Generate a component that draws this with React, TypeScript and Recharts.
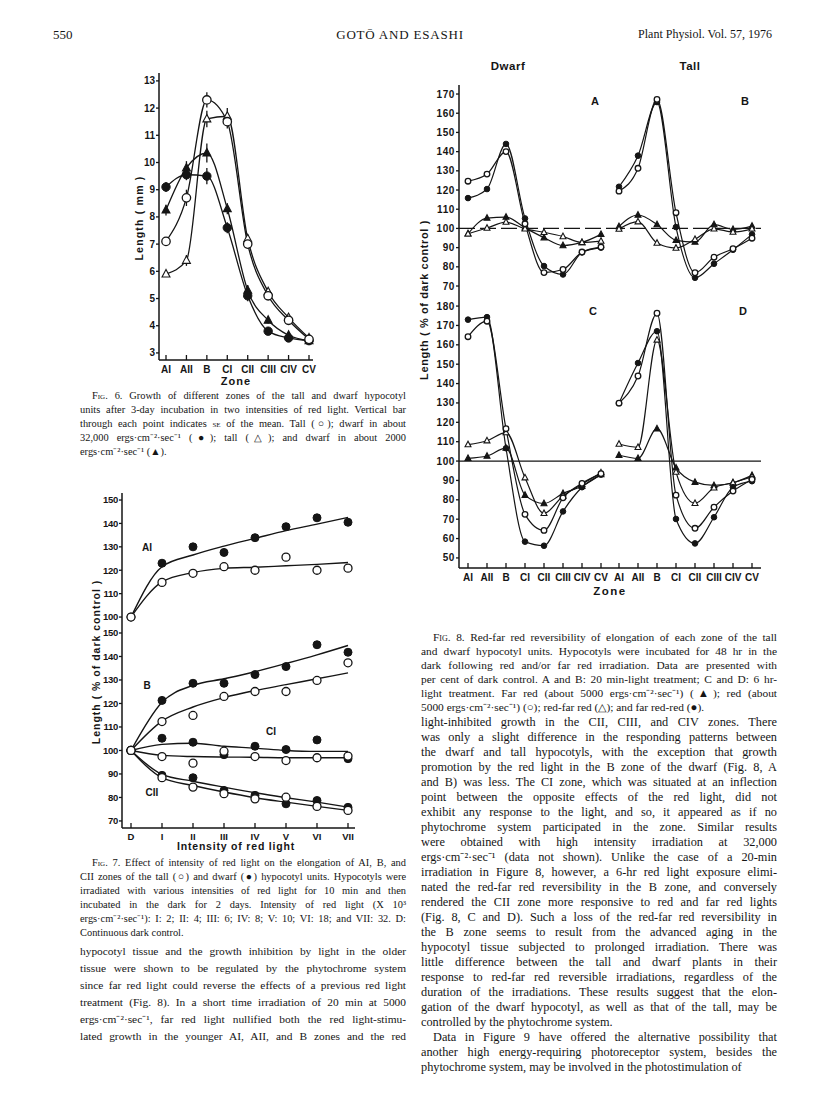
import React from "react"
import { LineChart, Line, XAxis, YAxis, ReferenceLine, ErrorBar } from "recharts"

const INK = "#151515"
const SANS = "'Liberation Sans', Arial, sans-serif"
const SERIF = "'Liberation Serif', 'Times New Roman', serif"

// ---- Fig. 6: length (mm) of each zone
const zones = ["AI", "AII", "B", "CI", "CII", "CIII", "CIV", "CV"]
const tallHigh = [7.1, 8.7, 12.3, 11.5, 7.0, 5.1, 4.2, 3.5] // open circle
const dwarfHigh = [9.1, 9.55, 9.5, 7.6, 5.1, 3.8, 3.55, 3.45] // filled circle
const tallLow = [5.9, 6.4, 11.6, 11.7, 7.2, 5.25, 4.3, 3.55] // open triangle
const dwarfLow = [8.25, 9.8, 10.35, 8.3, 5.3, 4.2, 3.65, 3.45] // filled triangle
const seTallHigh = [0.12, 0.3, 0.28, 0.25, 0.15, 0.12, 0.1, 0.08]
const seDwarfHigh = [0.18, 0.2, 0.3, 0.2, 0.2, 0.15, 0.08, 0.06]
const seTallLow = [0.08, 0.2, 0.3, 0.3, 0.15, 0.1, 0.08, 0.06]
const seDwarfLow = [0.2, 0.25, 0.35, 0.2, 0.2, 0.12, 0.08, 0.06]
const fig6Ticks = [3, 4, 5, 6, 7, 8, 9, 10, 11, 12, 13]

// ---- Fig. 7: % of dark control vs intensity of red light
const intensities = ["D", "I", "II", "III", "IV", "V", "VI", "VII"]
const aiDwarf = [100, 123, 130, 127.6, 133.9, 138.6, 142.4, 140.5]
const aiTall = [100, 114.8, 118.7, 121.5, 120, 125.6, 120, 120.9]
const aiDwarfFit = [100, 121.5, 126.5, 130.3, 133.6, 136.9, 139.7, 142.6]
const aiTallFit = [100, 115, 119, 120.8, 121.3, 121.9, 122.5, 123.3]
const bDwarf = [100, 121.3, 128.6, 128.6, 132.3, 135.7, 145, 141.8]
const bTall = [100, 112.3, 114.9, 123, 125.1, 125.1, 129.8, 137.3]
const bDwarfFit = [100, 120.5, 127.7, 130.5, 133.5, 137, 140.7, 144.7]
const bTallFit = [100, 112.5, 118.5, 122.5, 125.5, 128, 130.5, 133]
const ciDwarf = [100, 105.2, 103.5, 98.2, 101.8, 100.4, 104.5, 96.5]
const ciTall = [100, 97.4, 94.6, 99.7, 97.4, 95.7, 96.9, 97.6]
const ciDwarfFit = [100, 102.6, 103.1, 101.8, 101, 100, 99.6, 99.6]
const ciTallFit = [100, 97.9, 97.4, 97.2, 97.1, 96.9, 96.9, 96.9]
const ciiDwarf = [100, 89.4, 88.4, 83, 80.9, 77.3, 78.7, 75.8]
const ciiTall = [100, 88.4, 84.4, 81.6, 79.4, 80.1, 76.2, 74.5]
const ciiDwarfFit = [100, 89.8, 86.9, 84.4, 82, 79.9, 78, 75.9]
const ciiTallFit = [100, 88.4, 85.1, 82.3, 79.9, 78, 76.2, 74.5]
const fig7TopTicks = [100, 110, 120, 130, 140, 150]
const fig7BotTicks = [70, 80, 90, 100, 110, 120, 130, 140, 150]

// ---- Fig. 8: % of dark control; fr = far red, r = red, rfr = red-far red, frr = far red-red
const frA = [97.2, 105.4, 105.9, 100.3, 95.2, 91.1, 92.7, 96.9]
const rA = [124.6, 128.3, 140, 102.4, 77, 78.6, 87.7, 90.3]
const rfrA = [97.2, 100.2, 103.3, 99.8, 98, 95.8, 92.7, 93.4]
const frrA = [115.8, 120.5, 144, 105.2, 80.4, 76, 87.5, 90]
const frB = [101, 107, 102, 93.8, 92.9, 102, 99.5, 101.2]
const rB = [119.4, 131.3, 167.2, 108.2, 76.9, 85, 89.4, 94.9]
const rfrB = [99.7, 103.5, 92.4, 89.8, 94.3, 99.8, 98.1, 99.8]
const frrB = [121.7, 137.9, 165.8, 100.7, 74.3, 81.6, 88.9, 96.9]
const frC = [101.4, 102.6, 106.7, 82.4, 78.1, 83.3, 87, 93]
const rC = [164.2, 172.2, 116.7, 72.5, 64.2, 81, 88.5, 93.5]
const rfrC = [108.5, 110.5, 114.7, 91.4, 73, 82, 88, 94]
const frrC = [173, 174.3, 106.6, 58.4, 56.3, 74, 86.5, 93]
const frD = [103, 101.4, 116.7, 96.5, 89.1, 87.4, 88.8, 92.6]
const rD = [129.9, 143.9, 176.3, 82.4, 65.3, 76.2, 84.5, 90.5]
const rfrD = [108.8, 107.1, 162.5, 94.3, 78.2, 86.2, 88.8, 91.9]
const frrD = [129.9, 150.6, 167, 70.1, 57.5, 71, 86.5, 89.6]
const fig8TopTicks = [70, 80, 90, 100, 110, 120, 130, 140, 150, 160, 170]
const fig8BotTicks = [50, 60, 70, 80, 90, 100, 110, 120, 130, 140, 150, 160, 170, 180]

const fig6Rows = zones.map((zone, i) => ({
  zone, th: tallHigh[i], dh: dwarfHigh[i], tl: tallLow[i], dl: dwarfLow[i],
  eth: seTallHigh[i], edh: seDwarfHigh[i], etl: seTallLow[i], edl: seDwarfLow[i],
}))
const fig7TopRows = intensities.map((k, i) => ({ k, d: aiDwarf[i], t: aiTall[i], df: aiDwarfFit[i], tf: aiTallFit[i] }))
const fig7BotRows = intensities.map((k, i) => ({
  k, bd: bDwarf[i], bt: bTall[i], bdf: bDwarfFit[i], btf: bTallFit[i],
  cd: ciDwarf[i], ct: ciTall[i], cdf: ciDwarfFit[i], ctf: ciTallFit[i],
  ed: ciiDwarf[i], et: ciiTall[i], edf: ciiDwarfFit[i], etf: ciiTallFit[i],
}))
const rows8 = (fr: number[], r: number[], rfr: number[], frr: number[]) =>
  zones.map((zone, i) => ({ zone, fr: fr[i], r: r[i], rfr: rfr[i], frr: frr[i] }))

// ---- marks and ticks
function Mark({ cx, cy, kind, r }: { cx?: number; cy?: number; kind: string; r: number }) {
  if (cx == null || cy == null) return null
  if (kind === "oc") return <circle cx={cx} cy={cy} r={r} fill="#fff" stroke={INK} strokeWidth={1.3} />
  if (kind === "fc") return <circle cx={cx} cy={cy} r={r} fill={INK} stroke={INK} strokeWidth={1} />
  const h = r * 1.25
  const pts = `${cx},${cy - h} ${cx - r * 1.1},${cy + h * 0.65} ${cx + r * 1.1},${cy + h * 0.65}`
  return <polygon points={pts} fill={kind === "ft" ? INK : "#fff"} stroke={INK} strokeWidth={1.1} />
}
const dotOf = (kind: string, r: number) => (p: any) => (
  <Mark key={`${kind}-${p.index}`} cx={p.cx} cy={p.cy} kind={kind} r={r} />
)

const tickFont = { fontFamily: SANS, fontWeight: 700, fontSize: 10, fill: INK }
const axisStyle = { stroke: INK, strokeWidth: 1.5 }
const tickLineStyle = { stroke: INK, strokeWidth: 1.3 }

const xTickIn = (labels: boolean, dy: number, size = 10.5) => (p: any) => (
  <g>
    <line x1={p.x} y1={p.y} x2={p.x} y2={p.y - 5} stroke={INK} strokeWidth={1.3} />
    {labels && (
      <text x={p.x} y={p.y + dy} textAnchor="middle" style={{ ...tickFont, fontSize: size }}>
        {p.payload.value}
      </text>
    )}
  </g>
)
const yTickIn = (p: any) => <line x1={p.x} y1={p.y} x2={p.x + 5} y2={p.y} stroke={INK} strokeWidth={1.3} />

function Tag({ x, y, children, size = 11, rotate = false, ls = 0 }: any) {
  return (
    <div
      style={{
        position: "absolute", left: x, top: y, whiteSpace: "nowrap",
        transform: `translate(-50%, -50%)${rotate ? " rotate(-90deg)" : ""}`,
        fontFamily: SANS, fontWeight: 700, fontSize: size, letterSpacing: ls, color: INK,
      }}
    >
      {children}
    </div>
  )
}

// ---- Fig. 6
function Fig6() {
  const m = 8, yw = 26, xh = 22, pl = 159, pt = 73, pw = 154, ph = 287
  const dom: [number, number] = [2.74, 13.29]
  const pad = { left: 7, right: 4 }
  return (
    <div style={{ position: "absolute", left: pl - m - yw, top: pt - m }}>
      <LineChart width={m + yw + pw + m} height={m + ph + xh + m} data={fig6Rows} margin={{ top: m, right: m, bottom: m, left: m }}>
        <XAxis dataKey="zone" interval={0} tickSize={0} tickMargin={0} height={xh} tickLine={false} axisLine={axisStyle} tick={xTickIn(true, 13, 10)} padding={pad} />
        <XAxis xAxisId="top" orientation="top" dataKey="zone" height={0} tick={false} tickLine={false} axisLine={axisStyle} padding={pad} />
        <YAxis type="number" width={yw} domain={dom} ticks={fig6Ticks} allowDataOverflow tickSize={3} tickMargin={1} tickLine={tickLineStyle} axisLine={axisStyle} tick={tickFont} />
        <YAxis yAxisId="right" orientation="right" type="number" width={0} domain={dom} allowDataOverflow tick={false} tickLine={false} axisLine={axisStyle} />
        <Line type="monotone" dataKey="tl" stroke={INK} strokeWidth={1.3} dot={dotOf("ot", 3.6)} isAnimationActive={false}>
          <ErrorBar dataKey="etl" width={0} stroke={INK} strokeWidth={1.3} direction="y" />
        </Line>
        <Line type="monotone" dataKey="dl" stroke={INK} strokeWidth={1.3} dot={dotOf("ft", 3.6)} isAnimationActive={false}>
          <ErrorBar dataKey="edl" width={0} stroke={INK} strokeWidth={1.3} direction="y" />
        </Line>
        <Line type="monotone" dataKey="dh" stroke={INK} strokeWidth={1.3} dot={dotOf("fc", 4.2)} isAnimationActive={false}>
          <ErrorBar dataKey="edh" width={0} stroke={INK} strokeWidth={1.3} direction="y" />
        </Line>
        <Line type="monotone" dataKey="th" stroke={INK} strokeWidth={1.3} dot={dotOf("oc", 4.2)} isAnimationActive={false}>
          <ErrorBar dataKey="eth" width={0} stroke={INK} strokeWidth={1.3} direction="y" />
        </Line>
      </LineChart>
    </div>
  )
}

// ---- Fig. 7
function Fig7() {
  const m = 8, yw = 24, pl = 122, pw = 233
  const pad = { left: 9, right: 7 }
  const topDom: [number, number] = [96.6, 153]
  const botDom: [number, number] = [67, 153.4]
  const yFont = { ...tickFont, fontSize: 9.5, letterSpacing: -0.3 }
  const fit = (key: string) => <Line key={key} type="monotone" dataKey={key} stroke={INK} strokeWidth={1.4} dot={false} isAnimationActive={false} />
  const pts = (key: string, kind: string) => <Line key={key} dataKey={key} stroke="none" dot={dotOf(kind, 4)} isAnimationActive={false} />
  return (
    <>
      <div style={{ position: "absolute", left: pl - m - yw, top: 493 - m }}>
        <LineChart width={m + yw + pw + m} height={m + 132 + m} data={fig7TopRows} margin={{ top: m, right: m, bottom: m, left: m }}>
          <XAxis dataKey="k" interval={0} height={0} tick={false} tickLine={false} axisLine={axisStyle} padding={pad} />
          <XAxis xAxisId="top" orientation="top" dataKey="k" height={0} tick={false} tickLine={false} axisLine={axisStyle} padding={pad} />
          <YAxis type="number" width={yw} domain={topDom} ticks={fig7TopTicks} allowDataOverflow tickSize={3} tickMargin={1} tickLine={tickLineStyle} axisLine={axisStyle} tick={yFont} />
          <YAxis yAxisId="right" orientation="right" type="number" width={0} domain={topDom} allowDataOverflow tick={false} tickLine={false} axisLine={axisStyle} />
          {fit("df")}
          {fit("tf")}
          {pts("d", "fc")}
          {pts("t", "oc")}
        </LineChart>
      </div>
      <div style={{ position: "absolute", left: pl - m - yw, top: 625 - m }}>
        <LineChart width={m + yw + pw + m} height={m + 203 + 22 + m} data={fig7BotRows} margin={{ top: m, right: m, bottom: m, left: m }}>
          <XAxis dataKey="k" interval={0} tickSize={0} tickMargin={0} height={22} tickLine={false} axisLine={axisStyle} tick={xTickIn(true, 12, 9.5)} padding={pad} />
          <XAxis xAxisId="top" orientation="top" dataKey="k" height={0} tick={false} tickLine={false} axisLine={axisStyle} padding={pad} />
          <YAxis type="number" width={yw} domain={botDom} ticks={fig7BotTicks} allowDataOverflow tickSize={3} tickMargin={1} tickLine={tickLineStyle} axisLine={axisStyle} tick={yFont} />
          <YAxis yAxisId="right" orientation="right" type="number" width={0} domain={botDom} allowDataOverflow tick={false} tickLine={false} axisLine={axisStyle} />
          {fit("bdf")}
          {fit("btf")}
          {fit("cdf")}
          {fit("ctf")}
          {fit("edf")}
          {fit("etf")}
          {pts("bd", "fc")}
          {pts("bt", "oc")}
          {pts("cd", "fc")}
          {pts("ct", "oc")}
          {pts("ed", "fc")}
          {pts("et", "oc")}
        </LineChart>
      </div>
    </>
  )
}

// ---- Fig. 8 panels
type Panel8 = {
  x: number; y: number; w: number; h: number; rows: any[]; domain: [number, number]; ticks: number[]
  numbers: boolean; zoneLabels: boolean; dashed: boolean; padL: number; padR: number
}
function Fig8Panel(p: Panel8) {
  const m = 8
  const yw = p.numbers ? 28 : 0
  const xh = p.zoneLabels ? 20 : 0
  const pad = { left: p.padL, right: p.padR }
  const tickNum = { ...tickFont, fontSize: 10, letterSpacing: 0.6 }
  return (
    <div style={{ position: "absolute", left: p.x - m - yw, top: p.y - m }}>
      <LineChart width={m + yw + p.w + m} height={m + p.h + xh + m} data={p.rows} margin={{ top: m, right: m, bottom: m, left: m }}>
        <XAxis dataKey="zone" interval={0} tickSize={0} tickMargin={0} height={xh} tickLine={false} axisLine={axisStyle} tick={xTickIn(p.zoneLabels, 13, 10)} padding={pad} />
        <XAxis xAxisId="top" orientation="top" dataKey="zone" height={0} tick={false} tickLine={false} axisLine={axisStyle} padding={pad} />
        {p.numbers ? (
          <YAxis type="number" width={yw} domain={p.domain} ticks={p.ticks} allowDataOverflow tickSize={3} tickMargin={1} tickLine={tickLineStyle} axisLine={axisStyle} tick={tickNum} />
        ) : (
          <YAxis type="number" width={0} domain={p.domain} ticks={p.ticks} allowDataOverflow tickSize={0} tickMargin={0} tickLine={false} axisLine={axisStyle} tick={yTickIn} />
        )}
        <YAxis yAxisId="right" orientation="right" type="number" width={0} domain={p.domain} allowDataOverflow tick={false} tickLine={false} axisLine={axisStyle} />
        <ReferenceLine y={100} stroke={INK} strokeWidth={1.3} strokeDasharray={p.dashed ? "16 5" : undefined} />
        <Line type="monotone" dataKey="fr" stroke={INK} strokeWidth={1.2} dot={dotOf("ft", 2.7)} isAnimationActive={false} />
        <Line type="monotone" dataKey="rfr" stroke={INK} strokeWidth={1.2} dot={dotOf("ot", 2.7)} isAnimationActive={false} />
        <Line type="monotone" dataKey="frr" stroke={INK} strokeWidth={1.2} dot={dotOf("fc", 2.8)} isAnimationActive={false} />
        <Line type="monotone" dataKey="r" stroke={INK} strokeWidth={1.2} dot={dotOf("oc", 2.8)} isAnimationActive={false} />
      </LineChart>
    </div>
  )
}

function Fig8() {
  const topDom: [number, number] = [64.8, 174.7]
  const botDom: [number, number] = [44.8, 185.2]
  return (
    <>
      <Fig8Panel x={459} y={85} w={150} h={211} rows={rows8(frA, rA, rfrA, frrA)} domain={topDom} ticks={fig8TopTicks} numbers zoneLabels={false} dashed padL={9} padR={8} />
      <Fig8Panel x={609} y={85} w={152} h={211} rows={rows8(frB, rB, rfrB, frrB)} domain={topDom} ticks={fig8TopTicks} numbers={false} zoneLabels={false} dashed padL={10} padR={9} />
      <Fig8Panel x={459} y={296} w={150} h={272} rows={rows8(frC, rC, rfrC, frrC)} domain={botDom} ticks={fig8BotTicks} numbers zoneLabels dashed={false} padL={9} padR={8} />
      <Fig8Panel x={609} y={296} w={152} h={272} rows={rows8(frD, rD, rfrD, frrD)} domain={botDom} ticks={fig8BotTicks} numbers={false} zoneLabels dashed={false} padL={10} padR={9} />
    </>
  )
}

// ---- text blocks
function Lines({ x, y, w, size, lh, lines, ends = [], indent = [] }: {
  x: number; y: number; w: number; size: number; lh: number; lines: React.ReactNode[]; ends?: number[]; indent?: number[]
}) {
  return (
    <div style={{ position: "absolute", left: x, top: y, width: w, fontFamily: SERIF, fontSize: size, lineHeight: `${lh}px`, color: INK }}>
      {lines.map((t, i) => (
        <div
          key={i}
          style={{
            whiteSpace: "nowrap", textAlign: "justify",
            textAlignLast: ends.includes(i) ? "left" : "justify",
            paddingLeft: indent.includes(i) ? 12 : 0,
          }}
        >
          {t}
        </div>
      ))}
    </div>
  )
}

const Fig = ({ n }: { n: number }) => (
  <span><span style={{ fontVariant: "small-caps" }}>Fig.</span> {n}.</span>
)

const cap6 = [
  <><Fig n={6} /> Growth of different zones of the tall and dwarf hypocotyl</>,
  "units after 3-day incubation in two intensities of red light. Vertical bar",
  <>through each point indicates <span style={{ fontVariant: "small-caps" }}>se</span> of the mean. Tall (○); dwarf in about</>,
  "32,000 ergs·cm⁻²·sec⁻¹ (●);  tall  (△);  and  dwarf  in  about  2000",
  "ergs·cm⁻²·sec⁻¹ (▲).",
]
const cap7 = [
  <><Fig n={7} /> Effect of intensity of red light on the elongation of AI, B, and</>,
  "CII zones of the tall (○) and dwarf (●) hypocotyl units. Hypocotyls were",
  "irradiated with various intensities of red light for 10 min and then",
  "incubated in the dark for 2 days. Intensity of red light (X 10³",
  "ergs·cm⁻²·sec⁻¹): I: 2; II: 4; III: 6; IV: 8; V: 10; VI: 18; and VII: 32. D:",
  "Continuous dark control.",
]
const bodyLeft = [
  "hypocotyl tissue and the growth inhibition by light in the older",
  "tissue were shown to be regulated by the phytochrome system",
  "since far red light could reverse the effects of a previous red light",
  "treatment (Fig. 8). In a short time irradiation of 20 min at 5000",
  "ergs·cm⁻²·sec⁻¹, far red light nullified both the red light-stimu-",
  "lated growth in the younger AI, AII, and B zones and the red",
]
const cap8 = [
  <><Fig n={8} /> Red-far red reversibility of elongation of each zone of the tall</>,
  "and dwarf hypocotyl units. Hypocotyls were incubated for 48 hr in the",
  "dark following red and/or far red irradiation. Data are presented with",
  "per cent of dark control. A and B: 20 min-light treatment; C and D: 6 hr-",
  "light treatment. Far red (about 5000 ergs·cm⁻²·sec⁻¹) (▲); red (about",
  "5000 ergs·cm⁻²·sec⁻¹) (○); red-far red (△); and far red-red (●).",
]
const bodyRight = [
  "light-inhibited growth in the CII, CIII, and CIV zones. There",
  "was only a slight difference in the responding patterns between",
  "the dwarf and tall hypocotyls, with the exception that growth",
  "promotion by the red light in the B zone of the dwarf (Fig. 8, A",
  "and B) was less. The CI zone, which was situated at an inflection",
  "point between the opposite effects of the red light, did not",
  "exhibit any response to the light, and so, it appeared as if no",
  "phytochrome system participated in the zone. Similar results",
  "were obtained with high intensity irradiation at 32,000",
  "ergs·cm⁻²·sec⁻¹ (data not shown). Unlike the case of a 20-min",
  "irradiation in Figure 8, however, a 6-hr red light exposure elimi-",
  "nated the red-far red reversibility in the B zone, and conversely",
  "rendered the CII zone more responsive to red and far red lights",
  "(Fig. 8, C and D). Such a loss of the red-far red reversibility in",
  "the B zone seems to result from the advanced aging in the",
  "hypocotyl tissue subjected to prolonged irradiation. There was",
  "little difference between the tall and dwarf plants in their",
  "response to red-far red reversible irradiations, regardless of the",
  "duration of the irradiations. These results suggest that the elon-",
  "gation of the dwarf hypocotyl, as well as that of the tall, may be",
  "controlled by the phytochrome system.",
  "Data in Figure 9 have offered the alternative possibility that",
  "another high energy-requiring photoreceptor system, besides the",
  "phytochrome system, may be involved in the photostimulation of",
]

export default function App() {
  return (
    <div style={{ position: "absolute", left: 0, top: 0, width: 816, height: 1100, background: "#fff", overflow: "hidden" }}>
      {/* running head */}
      <div style={{ position: "absolute", left: 53, top: 27, fontFamily: SERIF, fontSize: 13, color: INK }}>550</div>
      <div style={{ position: "absolute", left: 0, width: 800, top: 27, textAlign: "center", fontFamily: SERIF, fontSize: 13, letterSpacing: 0.8, color: INK }}>GOTŌ AND ESASHI</div>
      <div style={{ position: "absolute", right: 44, top: 27, fontFamily: SERIF, fontSize: 12, color: INK }}>Plant Physiol. Vol. 57, 1976</div>

      <Fig6 />
      <Tag x={139} y={218} rotate ls={1.2} size={10.5}>Length ( mm )</Tag>
      <Tag x={236} y={381} ls={1} size={11}>Zone</Tag>
      <Lines x={80} y={389} w={326} size={10.4} lh={14} lines={cap6} ends={[4]} indent={[0]} />

      <Fig7 />
      <Tag x={147} y={547} size={10}>AI</Tag>
      <Tag x={147} y={685} size={10}>B</Tag>
      <Tag x={271} y={731} size={10}>CI</Tag>
      <Tag x={152} y={792} size={10}>CII</Tag>
      <Tag x={96} y={662} rotate ls={1} size={10.5}>Length ( % of dark control )</Tag>
      <Tag x={236} y={846} ls={0.8} size={10.5}>Intensity of red light</Tag>
      <Lines x={80} y={856} w={326} size={10.4} lh={14} lines={cap7} ends={[5]} indent={[0]} />
      <Lines x={80} y={943} w={326} size={11.4} lh={17} lines={bodyLeft} />

      <Fig8 />
      <Tag x={508} y={66} size={11.5} ls={0.5}>Dwarf</Tag>
      <Tag x={690} y={66} size={11.5} ls={0.5}>Tall</Tag>
      <Tag x={595} y={101} size={11}>A</Tag>
      <Tag x={745} y={101} size={11}>B</Tag>
      <Tag x={593} y={311} size={11}>C</Tag>
      <Tag x={743} y={311} size={11}>D</Tag>
      <Tag x={424} y={300} rotate ls={0.6} size={11}>Length ( % of dark control )</Tag>
      <Tag x={610} y={591} ls={1.5} size={11.5}>Zone</Tag>
      <Lines x={421} y={630} w={356} size={11.4} lh={14} lines={cap8} ends={[5]} indent={[0]} />
      <Lines x={421} y={714.5} w={356} size={12.3} lh={15} lines={bodyRight} ends={[20, 23]} indent={[21]} />
    </div>
  )
}
